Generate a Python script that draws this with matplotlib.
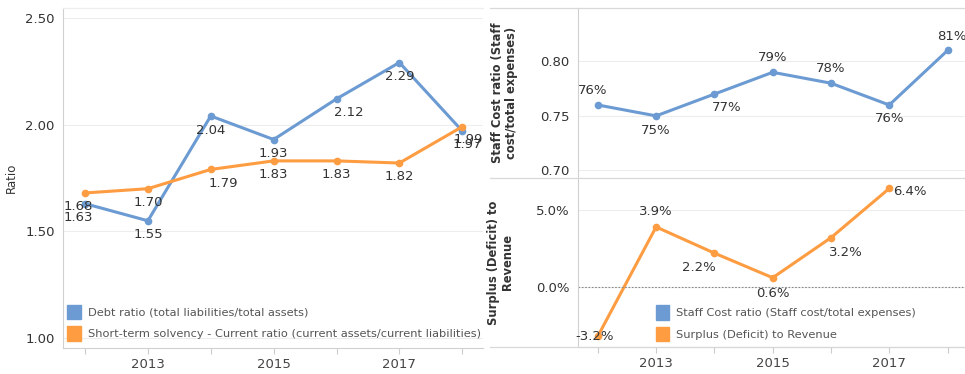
import matplotlib.pyplot as plt
from matplotlib.patches import Patch
from matplotlib.lines import Line2D

years = [2012, 2013, 2014, 2015, 2016, 2017, 2018]
debt_ratio = [1.63, 1.55, 2.04, 1.93, 2.12, 2.29, 1.97]
current_ratio = [1.68, 1.70, 1.79, 1.83, 1.83, 1.82, 1.99]
staff_cost = [0.76, 0.75, 0.77, 0.79, 0.78, 0.76, 0.81]
surplus_years = [2012, 2013, 2014, 2015, 2016, 2017]
surplus = [-3.2, 3.9, 2.2, 0.6, 3.2, 6.4]

BLUE = '#6b9bd2'
ORANGE = '#fe9c42'
TXT = '#333333'
W, H = 965, 374

fig = plt.figure(figsize=(9.65, 3.74), dpi=100)


def px_axes(x0, y0, x1, y1):
    return fig.add_axes([x0 / W, 1 - y1 / H, (x1 - x0) / W, (y1 - y0) / H])


def style(ax):
    for s in ['top', 'right']:
        ax.spines[s].set_visible(False)
    for s in ['left', 'bottom']:
        ax.spines[s].set_color('#d0d0d0')
    ax.tick_params(axis='y', length=0, labelsize=9.5, labelcolor=TXT, pad=6)
    ax.tick_params(axis='x', length=4, color='#cccccc', labelsize=9.5, labelcolor='#444444')
    ax.set_xticks(years)
    ax.set_xticklabels(['' if y % 2 == 0 else str(y) for y in years])
    ax.grid(axis='y', color='#ededed', lw=0.8)
    ax.set_axisbelow(True)


def labels(ax, xs, ys, texts, offs):
    for x, y, t, (dx, dy) in zip(xs, ys, texts, offs):
        ax.annotate(t, (x, y), xytext=(dx, dy), textcoords='offset points',
                    ha='center', va='center', fontsize=9.5, color=TXT)


# ---- left panel
ax = px_axes(63, 8, 483, 348)
style(ax)
ax.plot(years, debt_ratio, color=BLUE, lw=2.2, marker='o', ms=4.5)
ax.plot(years, current_ratio, color=ORANGE, lw=2.2, marker='o', ms=4.5)
ax.set_xlim(2011.65, 2018.33)
ax.set_ylim(0.955, 2.545)
ax.set_yticks([1.0, 1.5, 2.0, 2.5])
ax.set_yticklabels(['1.00', '1.50', '2.00', '2.50'])
ax.set_ylabel('Ratio', fontsize=8.5, color=TXT, labelpad=5)
labels(ax, years, debt_ratio, ['%.2f' % v for v in debt_ratio],
       [(-5, -10), (0, -10), (0, -10.5), (0, -10), (9, -10), (0, -10), (4, -10)])
labels(ax, years, current_ratio, ['%.2f' % v for v in current_ratio],
       [(-5, -10), (0, -10), (9, -10), (0, -10), (0, -10), (0, -10), (4, -9)])
ax.legend(handles=[Patch(color=BLUE, label='Debt ratio (total liabilities/total assets)'),
                   Patch(color=ORANGE, label='Short-term solvency - Current ratio (current assets/current liabilities)')],
          loc='lower left', bbox_to_anchor=(0.005, 0.015), frameon=False, fontsize=8.2,
          labelcolor='#555555', handlelength=1.2, handleheight=1.6, handletextpad=0.6,
          labelspacing=0.6, borderpad=0.2, borderaxespad=0)

# ---- right top
ax1 = px_axes(578, 8, 965, 178)
style(ax1)
ax1.set_xticklabels([])
ax1.tick_params(axis='x', length=0)
ax1.spines['bottom'].set_visible(False)
ax1.plot(years, staff_cost, color=BLUE, lw=2.2, marker='o', ms=4.5)
ax1.set_xlim(2011.66, 2018.3)
ax1.set_ylim(0.693, 0.849)
ax1.set_yticks([0.70, 0.75, 0.80])
ax1.set_yticklabels(['0.70', '0.75', '0.80'])
ax1.set_ylabel('Staff Cost ratio (Staff\ncost/total expenses)', fontsize=8.3,
               fontweight='bold', color=TXT, labelpad=16, linespacing=1.05)
labels(ax1, years, staff_cost, ['%d%%' % round(v * 100) for v in staff_cost],
       [(-4, 10.5), (0, -10.5), (9, -10), (0, 10.5), (0, 10.5), (0, -9.5), (3, 10)])

# ---- right bottom
ax2 = px_axes(578, 178, 965, 347)
style(ax2)
ax2.plot(surplus_years, surplus, color=ORANGE, lw=2.2, marker='o', ms=4.5)
ax2.axhline(0, color='#888888', lw=0.8, ls=(0, (1.5, 1.5)))
ax2.set_xlim(2011.66, 2018.3)
ax2.set_ylim(-3.9, 7.08)
ax2.set_yticks([0, 5])
ax2.set_yticklabels(['0.0%', '5.0%'])
ax2.set_ylabel('Surplus (Deficit) to\nRevenue', fontsize=8.3, fontweight='bold',
               color=TXT, labelpad=16, linespacing=1.05)
labels(ax2, surplus_years, surplus, ['%.1f%%' % v for v in surplus],
       [(-2, 0), (0, 11), (-11, -10), (0, -11), (11, -11), (15, -2)])
ax2.legend(handles=[Patch(color=BLUE, label='Staff Cost ratio (Staff cost/total expenses)'),
                    Patch(color=ORANGE, label='Surplus (Deficit) to Revenue')],
           loc='lower left', bbox_to_anchor=(0.195, 0.02), frameon=False, fontsize=8.2,
           labelcolor='#555555', handlelength=1.2, handleheight=1.6, handletextpad=0.6,
           labelspacing=0.6, borderpad=0.2, borderaxespad=0)

# divider / frame lines across right panel
for yy in [8, 178, 347]:
    fig.add_artist(Line2D([490 / W, 1], [1 - yy / H] * 2, color='#d8d8d8', lw=0.9))
fig.add_artist(Line2D([63 / W, 483 / W], [1 - 8 / H] * 2, color='#eeeeee', lw=0.9))

fig.savefig('out.png', dpi=100)
